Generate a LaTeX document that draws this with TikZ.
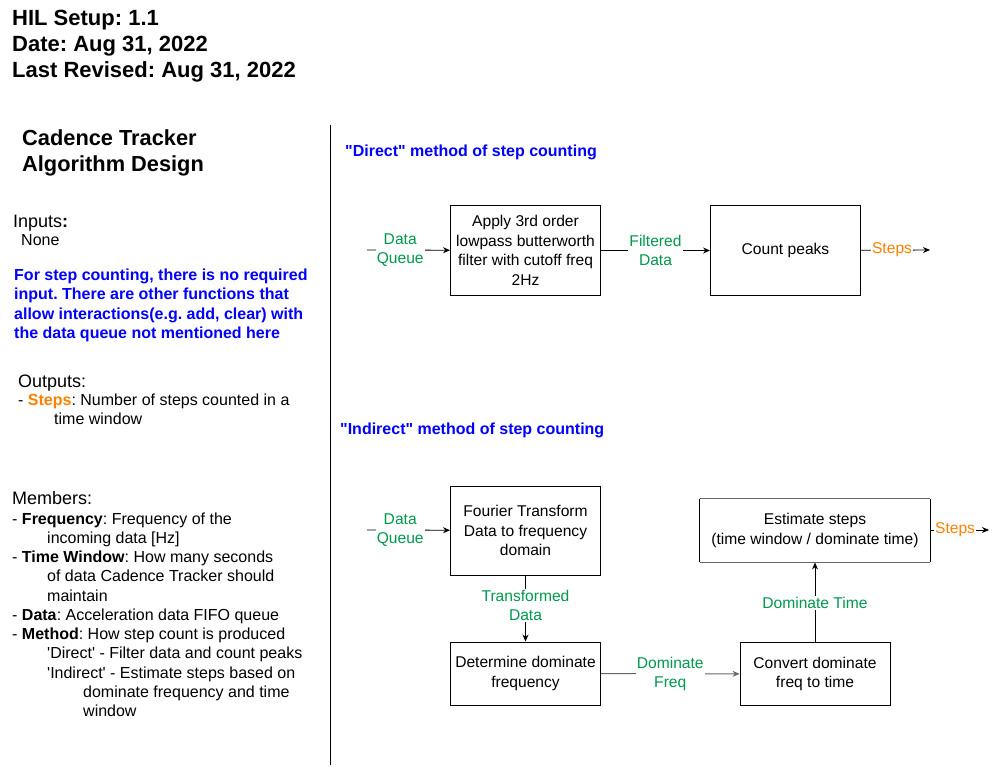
\documentclass[tikz,border=0pt]{standalone}
\usepackage{fontspec}
\setmainfont{Liberation Sans}[Ligatures=TeXOff]
\frenchspacing
\usetikzlibrary{arrows.meta}
\definecolor{lblgreen}{RGB}{0,153,77}
\definecolor{lblorange}{RGB}{255,128,0}
\definecolor{ttlblue}{RGB}{0,0,255}
\definecolor{linegray}{RGB}{102,102,102}
\tikzset{
  txt/.style={anchor=west, inner sep=0pt, text height=11.3pt, text depth=0pt, yshift=-1pt, font=\fontsize{16}{19.5}\selectfont},
  btxt/.style={txt, font=\fontsize{16}{19.5}\selectfont\bfseries},
  hdr/.style={txt, text height=15.8pt, yshift=0pt, font=\fontsize{22}{26}\selectfont\bfseries},
  sub/.style={txt, text height=15.6pt, yshift=0pt, font=\fontsize{21.8}{26}\selectfont\bfseries},
  sec/.style={txt, text height=13pt, yshift=0pt, font=\fontsize{18}{22}\selectfont},
  blk/.style={draw=black, line width=0.9pt, align=center, inner sep=2pt,
    font=\fontsize{15.6}{19.5}\selectfont, minimum width=150pt},
  conn/.style={line width=0.9pt, -{Stealth[length=7pt,width=6pt]}},
  glbl/.style={fill=white, text=lblgreen, align=center, inner sep=1pt,
    font=\fontsize{15.6}{19.5}\selectfont},
  olbl/.style={fill=white, text=lblorange, inner sep=1pt,
    font=\fontsize{15.6}{19.5}\selectfont}
}
\begin{document}
\begin{tikzpicture}[x=1pt,y=-1pt]
\useasboundingbox (0,0) rectangle (999,767);
% header
\node[hdr] (h1) at (12,17) {HIL Setup: 1.1};
\node[hdr] (h2) at (12,43) {Date: Aug 31, 2022};
\node[hdr] (h3) at (12,69) {Last Revised: Aug 31, 2022};
% left panel
\node[sub] (s1) at (22,137) {Cadence Tracker};
\node[sub] (s2) at (22,163) {Algorithm Design};
\node[sec] (in1) at (13,220) {Inputs\textbf{:}};
\node[txt] (in2) at (21,239) {None};
\node[btxt, text=ttlblue] (b1) at (14,274) {For step counting, there is no required};
\node[btxt, text=ttlblue] (b2) at (14,293) {input. There are other functions that};
\node[btxt, text=ttlblue] (b3) at (14,313) {allow interactions(e.g. add, clear) with};
\node[btxt, text=ttlblue] (b4) at (14,332) {the data queue not mentioned here};
\node[sec] (o1) at (18,380) {Outputs:};
\node[txt] (o2) at (18,399) {- \textbf{\color{lblorange}Steps}: Number of steps counted in a};
\node[txt] (o3) at (54,418) {time window};
\node[sec] (m0) at (12,497) {Members:};
\node[txt] (m1) at (12,518) {- \textbf{Frequency}: Frequency of the};
\node[txt] (m2) at (47,537) {incoming data [Hz]};
\node[txt] (m3) at (12,556) {- \textbf{Time Window}: How many seconds};
\node[txt] (m4) at (47,575) {of data Cadence Tracker should};
\node[txt] (m5) at (47,595) {maintain};
\node[txt] (m6) at (12,614) {- \textbf{Data}: Acceleration data FIFO queue};
\node[txt] (m7) at (12,633) {- \textbf{Method}: How step count is produced};
\node[txt] (m8) at (47,652) {'Direct' - Filter data and count peaks};
\node[txt] (m9) at (47,672) {'Indirect' - Estimate steps based on};
\node[txt] (m10) at (83,691) {dominate frequency and time};
\node[txt] (m11) at (83,710) {window};
% divider
\coordinate (dv1) at (330,125);
\coordinate (dv2) at (330,765);
\draw[line width=0.9pt] (dv1) -- (dv2);
% direct method
\node[btxt, text=ttlblue] (dt) at (345,150) {"Direct" method of step counting};
\node[blk, minimum height=90pt] (filt) at (525.5,250.5) {Apply 3rd order\\lowpass butterworth\\filter with cutoff freq\\2Hz};
\node[blk, minimum height=90pt] (peaks) at (785.5,250.5) {Count peaks};
\coordinate (din1) at (367,250);
\coordinate (dout1) at (930,250);
\draw[conn] (din1) -- node[glbl, pos=0.4] {Data\\Queue} (filt);
\draw[conn] (filt) -- node[glbl] {Filtered\\Data} (peaks);
\draw[conn] (peaks) -- node[olbl, pos=0.45] {Steps} (dout1);
% indirect method
\node[btxt, text=ttlblue] (it) at (340,428) {"Indirect" method of step counting};
\node[blk, minimum height=89pt] (fft) at (525.5,530.5) {Fourier Transform\\Data to frequency\\domain};
\node[blk, minimum height=63pt] (dom) at (525.5,673.5) {Determine dominate\\frequency};
\node[blk, minimum height=63pt] (conv) at (815,674) {Convert dominate\\freq to time};
\node[blk, draw=none, minimum width=230pt, minimum height=63pt] (est) at (815,530.5) {Estimate steps\\(time window / dominate time)};
\draw[line width=0.9pt, linegray] (est.north west) -- (est.north east);
\draw[line width=0.9pt, linegray] (est.south west) -- (est.south east);
\draw[line width=0.9pt] (est.north west) -- (est.south west);
\draw[line width=0.9pt] (est.north east) -- (est.south east);
\coordinate (din2) at (367,530);
\coordinate (dout2) at (989,530);
\draw[conn] (din2) -- node[glbl, pos=0.4] {Data\\Queue} (fft);
\draw[conn] (fft) -- node[glbl, pos=0.45] {Transformed\\Data} (dom);
\draw[conn, draw=linegray] (dom) -- node[glbl] {Dominate\\Freq} (conv);
\draw[conn] (conv) -- node[glbl, pos=0.49] {Dominate Time} (est);
\draw[conn] (est.east |- dout2) -- node[olbl, pos=0.42] {Steps} (dout2);
\end{tikzpicture}
\end{document}
